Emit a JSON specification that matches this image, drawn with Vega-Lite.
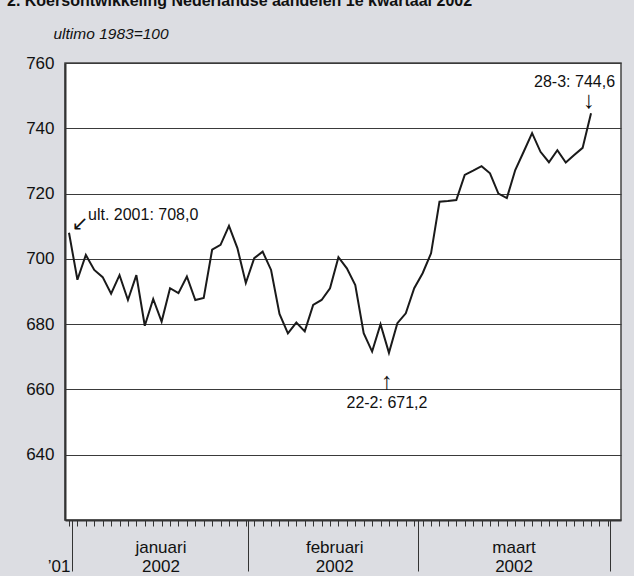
{
  "$schema": "https://vega.github.io/schema/vega-lite/v6.json",
  "autosize": {"type": "none"},
  "width": 556,
  "height": 457,
  "padding": {"left": 65, "top": 63, "right": 13, "bottom": 56},
  "background": "#dcdde2",
  "title": {
    "text": "2. Koersontwikkeling Nederlandse aandelen 1e kwartaal 2002",
    "anchor": "start",
    "frame": "group",
    "orient": "top",
    "offset": 4,
    "baseline": "alphabetic",
    "dx": -58,
    "font": "Liberation Sans",
    "fontSize": 16,
    "fontWeight": "bold",
    "color": "#111"
  },
  "config": {
    "view": {"fill": "white", "stroke": "#444", "strokeWidth": 1.5},
    "font": "Liberation Sans"
  },
  "data": {
    "values": [
      {"idx": 0, "value": 708.0}, {"idx": 1, "value": 693.6}, {"idx": 2, "value": 701.2},
      {"idx": 3, "value": 696.6}, {"idx": 4, "value": 694.4}, {"idx": 5, "value": 689.3},
      {"idx": 6, "value": 695.0}, {"idx": 7, "value": 687.4}, {"idx": 8, "value": 695.0},
      {"idx": 9, "value": 679.5}, {"idx": 10, "value": 687.7}, {"idx": 11, "value": 680.8},
      {"idx": 12, "value": 691.0}, {"idx": 13, "value": 689.5}, {"idx": 14, "value": 694.6},
      {"idx": 15, "value": 687.4}, {"idx": 16, "value": 688.0}, {"idx": 17, "value": 702.8},
      {"idx": 18, "value": 704.3}, {"idx": 19, "value": 710.1}, {"idx": 20, "value": 703.3},
      {"idx": 21, "value": 692.6}, {"idx": 22, "value": 700.2}, {"idx": 23, "value": 702.2},
      {"idx": 24, "value": 696.6}, {"idx": 25, "value": 683.1}, {"idx": 26, "value": 677.2},
      {"idx": 27, "value": 680.5}, {"idx": 28, "value": 677.8}, {"idx": 29, "value": 685.9},
      {"idx": 30, "value": 687.4}, {"idx": 31, "value": 691.0}, {"idx": 32, "value": 700.5},
      {"idx": 33, "value": 697.1}, {"idx": 34, "value": 692.0}, {"idx": 35, "value": 677.2},
      {"idx": 36, "value": 671.6}, {"idx": 37, "value": 680.0}, {"idx": 38, "value": 671.2},
      {"idx": 39, "value": 680.3}, {"idx": 40, "value": 683.3}, {"idx": 41, "value": 691.0},
      {"idx": 42, "value": 695.6}, {"idx": 43, "value": 701.7}, {"idx": 44, "value": 717.5},
      {"idx": 45, "value": 717.7}, {"idx": 46, "value": 718.0}, {"idx": 47, "value": 725.7},
      {"idx": 48, "value": 727.0}, {"idx": 49, "value": 728.4}, {"idx": 50, "value": 726.2},
      {"idx": 51, "value": 720.0}, {"idx": 52, "value": 718.6}, {"idx": 53, "value": 727.2},
      {"idx": 54, "value": 732.8}, {"idx": 55, "value": 738.5}, {"idx": 56, "value": 732.8},
      {"idx": 57, "value": 729.6}, {"idx": 58, "value": 733.3}, {"idx": 59, "value": 729.5},
      {"idx": 60, "value": 731.8}, {"idx": 61, "value": 734.0}, {"idx": 62, "value": 744.6}
    ]
  },
  "layer": [
    {
      "mark": {"type": "line", "color": "#1a1a1a", "strokeWidth": 2, "strokeJoin": "miter"},
      "encoding": {
        "x": {
          "field": "idx", "type": "quantitative",
          "scale": {"domain": [-0.475, 65.56], "nice": false, "zero": false},
          "axis": {
            "orient": "bottom", "title": null, "labels": false, "grid": false,
            "values": [0,1,2,3,4,5,6,7,8,9,10,11,12,13,14,15,16,17,18,19,20,21,22,23,24,25,26,27,28,29,30,31,32,33,34,35,36,37,38,39,40,41,42,43,44,45,46,47,48,49,50,51,52,53,54,55,56,57,58,59,60,61,62,63,64],
            "tickSize": 6, "tickColor": "#333", "tickWidth": 1,
            "domain": true, "domainColor": "#333", "domainWidth": 2
          }
        },
        "y": {
          "field": "value", "type": "quantitative",
          "scale": {"domain": [620, 760], "nice": false, "zero": false},
          "axis": {
            "values": [640, 660, 680, 700, 720, 740, 760],
            "grid": true, "gridColor": "#3a3a3a", "gridWidth": 1,
            "ticks": false, "domain": true, "domainColor": "#333", "domainWidth": 2,
            "labelFontSize": 17, "labelColor": "#111", "labelPadding": 11,
            "title": "ultimo 1983=100", "titleAngle": 0, "titleAlign": "left",
            "titleBaseline": "alphabetic", "titleX": -12, "titleY": -25,
            "titleFontSize": 15.5, "titleFontStyle": "italic", "titleFontWeight": "normal",
            "titleColor": "#111"
          }
        }
      }
    },
    {
      "data": {"values": [{"idx": 0, "value": 708.0, "label": "ult. 2001: 708,0"}]},
      "mark": {"type": "text", "align": "left", "baseline": "alphabetic", "dx": 19, "dy": -13, "fontSize": 16, "color": "#111"},
      "encoding": {
        "x": {
          "field": "idx", "type": "quantitative",
          "axis": {
            "orient": "bottom", "title": null, "labels": false, "grid": false, "domain": false,
            "values": [0.4, 21.3, 41.4, 64.25],
            "tickSize": 51, "tickColor": "#333", "tickWidth": 1
          }
        },
        "y": {"field": "value", "type": "quantitative"},
        "text": {"field": "label"}
      }
    },
    {
      "data": {"values": [{"idx": 62, "value": 744.6, "label": "28-3: 744,6"}]},
      "mark": {"type": "text", "align": "right", "baseline": "alphabetic", "dx": 24, "dy": -26, "fontSize": 16, "color": "#111"},
      "encoding": {
        "x": {
          "field": "idx", "type": "quantitative",
          "axis": {
            "orient": "bottom", "title": null, "grid": false, "domain": false, "ticks": false,
            "values": [0.1, 10.86, 31.5, 52.8],
            "labelExpr": "datum.value < 1 ? ['', '\u201901'] : datum.value < 20 ? ['januari', '2002'] : datum.value < 40 ? ['februari', '2002'] : ['maart', '2002']",
            "labelAlign": {"condition": {"test": "datum.value < 1", "value": "right"}, "value": "center"},
            "labelBaseline": "top", "labelPadding": 19, "labelFontSize": 17, "labelLineHeight": 19.5,
            "labelColor": "#111", "labelFlush": false, "labelOverlap": false
          }
        },
        "y": {"field": "value", "type": "quantitative"},
        "text": {"field": "label"}
      }
    },
    {
      "data": {"values": [{"idx": 38, "value": 671.2, "label": "22-2: 671,2"}]},
      "mark": {"type": "text", "align": "center", "baseline": "alphabetic", "dx": -2, "dy": 55, "fontSize": 16, "color": "#111"},
      "encoding": {
        "x": {"field": "idx", "type": "quantitative", "axis": null},
        "y": {"field": "value", "type": "quantitative"},
        "text": {"field": "label"}
      }
    },
    {
      "data": {"values": [{"idx": 0, "value": 708.0, "arrow": "\u2199"}]},
      "mark": {"type": "text", "align": "center", "baseline": "middle", "dx": 11, "dy": -9, "fontSize": 20, "font": "DejaVu Sans", "color": "#111"},
      "encoding": {
        "x": {"field": "idx", "type": "quantitative", "axis": null},
        "y": {"field": "value", "type": "quantitative"},
        "text": {"field": "arrow"}
      }
    },
    {
      "data": {"values": [{"idx": 62, "value": 744.6, "arrow": "\u2193"}]},
      "mark": {"type": "text", "align": "center", "baseline": "middle", "dx": -2, "dy": -12, "fontSize": 24, "font": "Liberation Sans", "color": "#111"},
      "encoding": {
        "x": {"field": "idx", "type": "quantitative", "axis": null},
        "y": {"field": "value", "type": "quantitative"},
        "text": {"field": "arrow"}
      }
    },
    {
      "data": {"values": [{"idx": 38, "value": 671.2, "arrow": "\u2191"}]},
      "mark": {"type": "text", "align": "center", "baseline": "middle", "dx": -2, "dy": 29, "fontSize": 24, "font": "Liberation Sans", "color": "#111"},
      "encoding": {
        "x": {"field": "idx", "type": "quantitative", "axis": null},
        "y": {"field": "value", "type": "quantitative"},
        "text": {"field": "arrow"}
      }
    }
  ],
  "resolve": {"axis": {"x": "independent"}}
}
